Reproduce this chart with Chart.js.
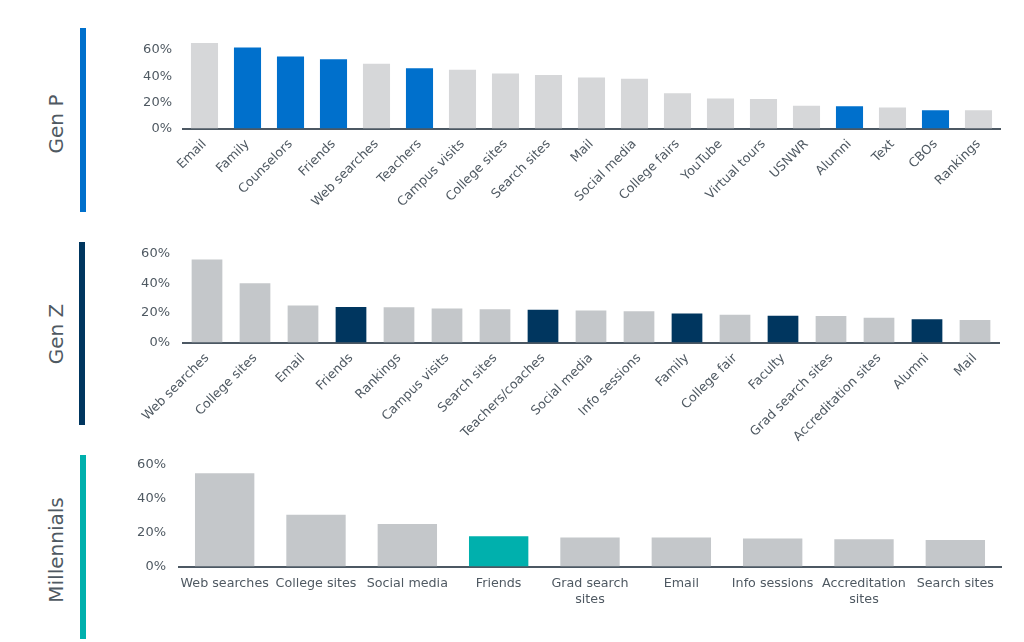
<!DOCTYPE html>
<html>
<head>
<meta charset="utf-8">
<script src="https://cdn.jsdelivr.net/npm/chart.js@4/dist/chart.umd.min.js"></script>
<style>
  html,body{margin:0;padding:0;background:#fff;width:1024px;height:642px;overflow:hidden;font-family:"DejaVu Sans",Verdana,sans-serif;}
  .box{position:absolute;}
  .side{position:absolute;color:#4f5962;font-size:20px;white-space:nowrap;transform:translate(-50%,-50%) rotate(-90deg);}
  .bar{position:absolute;width:6px;}
</style>
</head>
<body>
<div class="bar" style="left:80px;top:28px;height:184px;background:#0070cc"></div>
<div class="bar" style="left:79px;top:242px;height:183px;background:#00365f"></div>
<div class="bar" style="left:80px;top:455px;height:184px;background:#00b0ad"></div>
<div class="side" style="left:56px;top:124px;">Gen P</div>
<div class="side" style="left:56px;top:334px;">Gen Z</div>
<div class="side" style="left:56px;top:550px;">Millennials</div>

<div class="box" style="left:100px;top:30px;width:910px;height:200px;"><canvas id="c1"></canvas></div>
<div class="box" style="left:100px;top:240px;width:910px;height:210px;"><canvas id="c2"></canvas></div>
<div class="box" style="left:100px;top:455px;width:910px;height:187px;"><canvas id="c3"></canvas></div>

<script>
// ---- Data ----
const genPLabels = ["Email","Family","Counselors","Friends","Web searches","Teachers","Campus visits","College sites","Search sites","Mail","Social media","College fairs","YouTube","Virtual tours","USNWR","Alumni","Text","CBOs","Rankings"];
const genPValues = [65.5,62,55,53,49.5,46,45,42,41,39,38,27,23,22.5,17.5,17,16,14,14];
const genPHighlight = ["Family","Counselors","Friends","Teachers","Alumni","CBOs"];

const genZLabels = ["Web searches","College sites","Email","Friends","Rankings","Campus visits","Search sites","Teachers/coaches","Social media","Info sessions","Family","College fair","Faculty","Grad search sites","Accreditation sites","Alumni","Mail"];
const genZValues = [56,40,25,24,23.7,23,22.5,22,21.5,21,19.5,18.7,18.1,17.9,16.7,15.6,15.2];
const genZHighlight = ["Friends","Teachers/coaches","Family","Faculty","Alumni"];

const milLabels = [["Web searches"],["College sites"],["Social media"],["Friends"],["Grad search","sites"],["Email"],["Info sessions"],["Accreditation","sites"],["Search sites"]];
const milValues = [54.7,30.4,25,17.8,17,17,16.5,16,15.6];
const milHighlight = ["Friends"];

const yTicks = [0,20,40,60];

// ---- Helpers ----
const textColor = "#4f5962";
const axisColor = "#4c5863";

function labelText(l){ return Array.isArray(l) ? l.join(" ") : l; }

function makeChart(id, labels, values, highlight, hiColor, greyColor, cfg){
  const colors = labels.map(l => highlight.includes(labelText(l)) ? hiColor : greyColor);
  return new Chart(document.getElementById(id), {
    type: "bar",
    data: { labels: labels, datasets: [{ data: values, backgroundColor: colors, borderWidth: 0, barPercentage: cfg.barPct, categoryPercentage: 1 }] },
    options: {
      responsive: true, maintainAspectRatio: false, animation: false,
      devicePixelRatio: 1,
      layout: { padding: { top: cfg.padTop, right: cfg.padRight, left: 0, bottom: 0 } },
      plugins: { legend: { display: false }, tooltip: { enabled: false } },
      scales: {
        x: {
          grid: { display: false, drawTicks: false },
          border: { display: true, color: axisColor, width: 2 },
          ticks: {
            color: textColor, font: { family: "DejaVu Sans", size: 12.7, lineHeight: 1.25 },
            autoSkip: false, maxRotation: cfg.rot, minRotation: cfg.rot, padding: cfg.xPad
          },
          afterFit: s => { s.height = cfg.xHeight; s.paddingLeft = 0; s.paddingRight = 0; }
        },
        y: {
          min: 0, max: cfg.max,
          grid: { display: false, drawTicks: false },
          border: { display: false },
          ticks: {
            color: textColor, font: { family: "DejaVu Sans", size: 13 },
            stepSize: 20, padding: cfg.yPad,
            callback: v => v + "%"
          },
          afterBuildTicks: s => { s.ticks = yTicks.map(v => ({ value: v })); },
          afterFit: s => { s.width = cfg.yWidth; s.paddingTop = 0; s.paddingBottom = 0; }
        }
      }
    }
  });
}

makeChart("c1", genPLabels, genPValues, genPHighlight, "#0070cc", "#d6d7d9",
  { barPct: 0.63, padTop: 7, padRight: 10, rot: 45, xPad: 8, xHeight: 101.5, max: 70, yPad: 11, yWidth: 83 });
makeChart("c2", genZLabels, genZValues, genZHighlight, "#00365f", "#c4c7ca",
  { barPct: 0.64, padTop: 13.5, padRight: 11, rot: 45, xPad: 8, xHeight: 107.5, max: 60, yPad: 13, yWidth: 83 });
makeChart("c3", milLabels, milValues, milHighlight, "#00b0ad", "#c4c7ca",
  { barPct: 0.65, padTop: 9.3, padRight: 9, rot: 0, xPad: 9, xHeight: 75.5, max: 60, yPad: 13, yWidth: 79 });
</script>
</body>
</html>
